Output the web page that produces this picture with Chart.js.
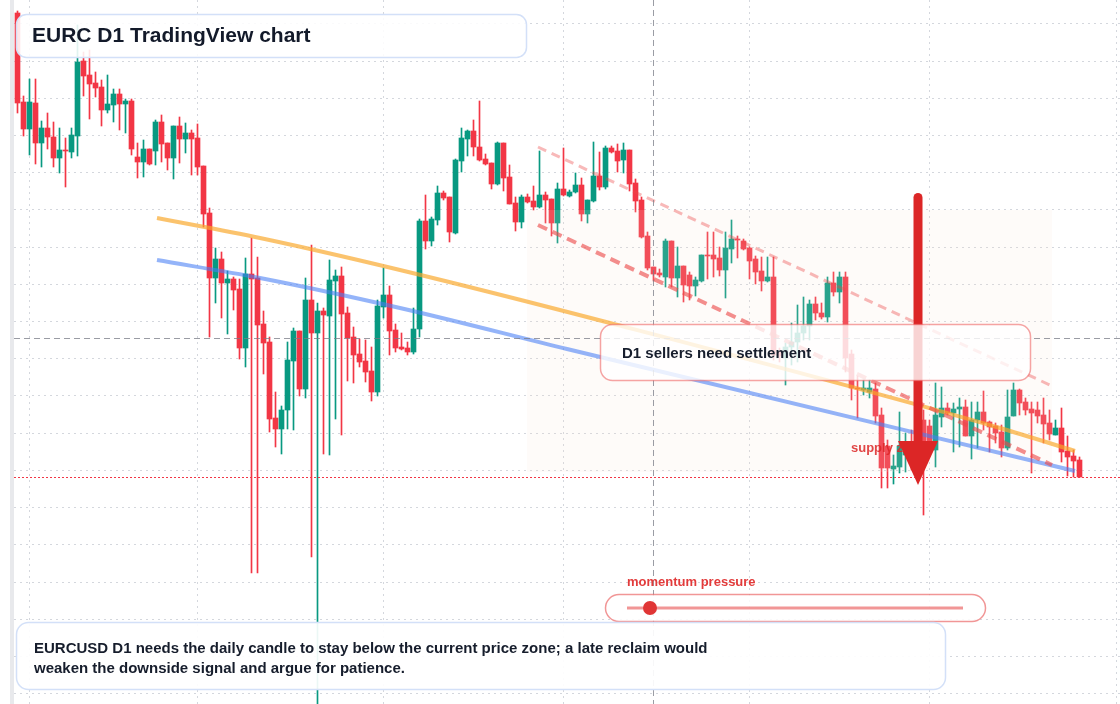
<!DOCTYPE html>
<html><head><meta charset="utf-8">
<script src="https://cdn.jsdelivr.net/npm/chart.js@4.4.1/dist/chart.umd.min.js"></script>
<style>html,body{margin:0;padding:0;background:#fff;overflow:hidden}#wrap{width:1120px;height:704px;position:relative}canvas{display:block}</style>
</head><body><div id="wrap"><canvas id="c" width="1120" height="704"></canvas></div>
<script>
// ---- Daily candles (EURC D1), one entry per day ----
const openP = [
1.1987,1.1898,1.1871,1.1897,1.1857,1.1872,1.1863,1.1842,1.1850,1.1848,
1.1864,1.1939,1.1925,1.1917,1.1913,1.1890,1.1895,1.1906,1.1896,1.1899,
1.1843,1.1838,1.1851,1.1849,1.1878,1.1857,1.1842,1.1874,1.1861,1.1867,
1.1862,1.1834,1.1787,1.1722,1.1741,1.1717,1.1721,1.1711,1.1652,1.1726,
1.1722,1.1676,1.1658,1.1582,1.1571,1.1590,1.1639,1.1669,1.1611,1.1700,
1.1667,1.1689,1.1684,1.1719,1.1724,1.1687,1.1663,1.1646,1.1639,1.1629,
1.1608,1.1693,1.1705,1.1670,1.1653,1.1652,1.1648,1.1671,1.1779,1.1759,
1.1780,1.1807,1.1803,1.1767,1.1839,1.1861,1.1869,1.1853,1.1841,1.1837,
1.1816,1.1857,1.1823,1.1797,1.1778,1.1803,1.1799,1.1793,1.1805,1.1801,
1.1777,1.1811,1.1804,1.1808,1.1815,1.1786,1.1799,1.1824,1.1813,1.1852,
1.1849,1.1840,1.1850,1.1817,1.1800,1.1764,1.1733,1.1727,1.1723,1.1759,
1.1722,1.1734,1.1725,1.1714,1.1719,1.1745,1.1745,1.1742,1.1730,1.1751,
1.1761,1.1759,1.1752,1.1741,1.1729,1.1719,1.1723,1.1648,1.1642,1.1653,
1.1658,1.1667,1.1674,1.1696,1.1687,1.1683,1.1717,1.1708,1.1723,1.1646,
1.1612,1.1610,1.1608,1.1611,1.1585,1.1554,1.1531,1.1533,1.1545,1.1555,
1.1548,1.1580,1.1574,1.1550,1.1583,1.1592,1.1587,1.1591,1.1593,1.1564,
1.1580,1.1588,1.1578,1.1574,1.1568,1.1552,1.1584,1.1610,1.1598,1.1591,
1.1590,1.1585,1.1577,1.1565,1.1572,1.1549,1.1544,1.1540];
const highP = [
1.1989,1.1904,1.1921,1.1921,1.1879,1.1887,1.1878,1.1872,1.1862,1.1872,
1.1975,1.1948,1.1950,1.1928,1.1920,1.1925,1.1911,1.1911,1.1901,1.1901,
1.1857,1.1860,1.1851,1.1880,1.1885,1.1857,1.1874,1.1883,1.1877,1.1870,
1.1876,1.1834,1.1792,1.1752,1.1748,1.1729,1.1723,1.1721,1.1742,1.1762,
1.1743,1.1689,1.1663,1.1608,1.1594,1.1658,1.1672,1.1669,1.1722,1.1755,
1.1697,1.1692,1.1740,1.1730,1.1733,1.1693,1.1673,1.1661,1.1660,1.1653,
1.1700,1.1732,1.1714,1.1676,1.1667,1.1658,1.1692,1.1781,1.1805,1.1783,
1.1814,1.1809,1.1803,1.1841,1.1872,1.1870,1.1880,1.1899,1.1846,1.1837,
1.1858,1.1857,1.1835,1.1803,1.1805,1.1806,1.1814,1.1849,1.1808,1.1801,
1.1817,1.1852,1.1810,1.1827,1.1822,1.1800,1.1858,1.1848,1.1854,1.1854,
1.1856,1.1857,1.1850,1.1821,1.1803,1.1768,1.1733,1.1731,1.1761,1.1759,
1.1753,1.1734,1.1728,1.1723,1.1745,1.1768,1.1768,1.1753,1.1768,1.1780,
1.1764,1.1761,1.1753,1.1744,1.1743,1.1743,1.1743,1.1652,1.1657,1.1677,
1.1695,1.1703,1.1700,1.1703,1.1697,1.1723,1.1728,1.1728,1.1728,1.1650,
1.1624,1.1620,1.1620,1.1617,1.1592,1.1560,1.1545,1.1588,1.1567,1.1570,
1.1585,1.1590,1.1580,1.1617,1.1613,1.1597,1.1597,1.1602,1.1600,1.1598,
1.1598,1.1609,1.1579,1.1577,1.1575,1.1610,1.1617,1.1611,1.1602,1.1598,
1.1598,1.1602,1.1590,1.1580,1.1592,1.1564,1.1550,1.1543];
const lowP = [
1.1887,1.1864,1.1845,1.1836,1.1833,1.1851,1.1833,1.1827,1.1813,1.1842,
1.1844,1.1904,1.1881,1.1903,1.1874,1.1887,1.1878,1.1870,1.1867,1.1845,
1.1822,1.1823,1.1835,1.1835,1.1838,1.1830,1.1821,1.1837,1.1847,1.1825,
1.1825,1.1773,1.1663,1.1697,1.1682,1.1666,1.1690,1.1641,1.1633,1.1427,
1.1427,1.1626,1.1568,1.1553,1.1546,1.1571,1.1570,1.1604,1.1602,1.1443,
1.1294,1.1546,1.1545,1.1581,1.1565,1.1619,1.1617,1.1633,1.1618,1.1599,
1.1604,1.1682,1.1645,1.1648,1.1650,1.1645,1.1646,1.1663,1.1751,1.1754,
1.1775,1.1800,1.1758,1.1766,1.1828,1.1844,1.1844,1.1839,1.1835,1.1811,
1.1815,1.1809,1.1796,1.1769,1.1772,1.1797,1.1790,1.1792,1.1777,1.1764,
1.1757,1.1804,1.1803,1.1807,1.1779,1.1777,1.1798,1.1810,1.1811,1.1847,
1.1828,1.1827,1.1809,1.1788,1.1762,1.1730,1.1719,1.1723,1.1713,1.1713,
1.1703,1.1698,1.1700,1.1704,1.1718,1.1721,1.1723,1.1724,1.1702,1.1737,
1.1742,1.1750,1.1721,1.1716,1.1709,1.1718,1.1640,1.1638,1.1615,1.1635,
1.1638,1.1660,1.1660,1.1680,1.1681,1.1678,1.1704,1.1697,1.1628,1.1600,
1.1582,1.1605,1.1602,1.1577,1.1512,1.1512,1.1516,1.1527,1.1528,1.1530,
1.1540,1.1485,1.1550,1.1533,1.1573,1.1585,1.1548,1.1553,1.1564,1.1541,
1.1552,1.1570,1.1548,1.1557,1.1543,1.1550,1.1584,1.1585,1.1585,1.1527,
1.1577,1.1557,1.1560,1.1565,1.1538,1.1524,1.1523,1.1523];
const closeP = [
1.1897,1.1871,1.1898,1.1857,1.1872,1.1863,1.1842,1.1850,1.1849,1.1865,
1.1938,1.1924,1.1916,1.1912,1.1890,1.1896,1.1906,1.1896,1.1899,1.1851,
1.1838,1.1851,1.1836,1.1878,1.1856,1.1842,1.1874,1.1861,1.1867,1.1861,
1.1833,1.1786,1.1722,1.1741,1.1717,1.1721,1.1710,1.1652,1.1726,1.1721,
1.1675,1.1657,1.1581,1.1571,1.1590,1.1640,1.1669,1.1611,1.1700,1.1667,
1.1689,1.1685,1.1720,1.1724,1.1686,1.1662,1.1645,1.1638,1.1628,1.1608,
1.1694,1.1705,1.1669,1.1652,1.1651,1.1648,1.1671,1.1779,1.1759,1.1781,
1.1807,1.1802,1.1768,1.1840,1.1862,1.1869,1.1853,1.1840,1.1836,1.1816,
1.1857,1.1822,1.1796,1.1778,1.1803,1.1798,1.1793,1.1805,1.1800,1.1777,
1.1811,1.1805,1.1808,1.1815,1.1786,1.1800,1.1824,1.1813,1.1852,1.1848,
1.1839,1.1850,1.1816,1.1799,1.1763,1.1732,1.1726,1.1725,1.1759,1.1722,
1.1734,1.1715,1.1714,1.1720,1.1745,1.1744,1.1741,1.1730,1.1752,1.1761,
1.1760,1.1751,1.1739,1.1728,1.1719,1.1723,1.1645,1.1644,1.1653,1.1658,
1.1667,1.1674,1.1696,1.1687,1.1683,1.1717,1.1708,1.1723,1.1642,1.1612,
1.1611,1.1612,1.1612,1.1584,1.1532,1.1532,1.1534,1.1554,1.1555,1.1548,
1.1575,1.1558,1.1553,1.1585,1.1592,1.1587,1.1591,1.1593,1.1564,1.1580,
1.1588,1.1577,1.1573,1.1567,1.1552,1.1583,1.1610,1.1597,1.1590,1.1587,
1.1584,1.1576,1.1566,1.1572,1.1548,1.1543,1.1539,1.1523];

// ---- Drawings (bar index, price) ----
const orangeIdx = [23.25, 40.42, 63.75, 98.75, 163.75, 176.25];
const orangeVal = [1.1782, 1.1762, 1.1730, 1.1677, 1.1572, 1.1549];
const blueIdx   = [23.25, 40.42, 63.75, 91.58, 176.25];
const blueVal   = [1.1740, 1.1722, 1.1692, 1.1651, 1.1529];
const chanIdx   = [86.75, 172.42];
const chanUpper = [1.1853, 1.1614];
const chanLower = [1.1775, 1.1535];
const zoneIdx   = [84.9, 172.42];
const zoneVal   = [1.1790, 1.1528];
const crossIdx  = 106;
const crossVal  = 1.1662;

// ---- Grid ticks ----
const monthGridIdx = [2.08, 30, 60.92, 91, 122.08, 152, 183.2];
const priceGrid = [1.1976,1.19388,1.19016,1.18644,1.18272,1.1790,1.17528,1.17156,1.16784,1.16412,1.1604,1.15668,1.15296,1.14924,1.14552,1.1418,1.13808,1.13436,1.13064];

// ---- Text ----
const titleText = 'EURC D1 TradingView chart';
const calloutText = 'D1 sellers need settlement';
const supplyText = 'supply zone';
const momentumText = 'momentum pressure';
const noteLines = ['EURCUSD D1 needs the daily candle to stay below the current price zone; a late reclaim would',
                   'weaken the downside signal and argue for patience.'];

const UP = '#089981', DOWN = '#f23645';
const FONT = '"Liberation Sans", Arial, Helvetica, sans-serif';

const idxs = openP.map((_, i) => i);
const bodies = idxs.map(i => ({x: i, y: [openP[i], closeP[i]]}));
const wicks = idxs.map(i => ({x: i, y: [lowP[i], highP[i]]}));
const candleColors = idxs.map(i => closeP[i] >= openP[i] ? UP : DOWN);
const pts = (xs, ys) => xs.map((v, i) => ({x: v, y: ys[i]}));

function rr(c, x, y, w, h, r) { c.beginPath(); c.roundRect(x, y, w, h, r); }

const overlay = {
  id: 'overlay',
  beforeDraw(chart) {
    const c = chart.ctx; c.save();
    c.fillStyle = '#ffffff'; c.fillRect(0, 0, chart.width, chart.height);
    c.fillStyle = '#e8e9ec'; c.fillRect(10, 0, 4, chart.height);
    c.restore();
  },
  afterDatasetDraw(chart, args) {
    if (chart.data.datasets[args.index].label !== 'bodies') return;
    const xs = chart.scales.x, ys = chart.scales.y, c = chart.ctx;
    const x0 = xs.getPixelForValue(zoneIdx[0]), x1 = xs.getPixelForValue(zoneIdx[1]);
    const y0 = ys.getPixelForValue(zoneVal[0]), y1 = ys.getPixelForValue(zoneVal[1]);
    c.save(); c.fillStyle = 'rgba(248,226,214,0.14)'; c.fillRect(x0, y0, x1 - x0, y1 - y0); c.restore();
  },
  afterDatasetsDraw(chart) {
    const xs = chart.scales.x, ys = chart.scales.y, c = chart.ctx, a = chart.chartArea;
    c.save();
    // crosshair
    c.strokeStyle = 'rgba(120,123,134,0.75)'; c.lineWidth = 1; c.setLineDash([6, 4]);
    const cx = Math.round(xs.getPixelForValue(crossIdx)) + 0.5;
    const cy = Math.round(ys.getPixelForValue(crossVal)) + 0.5;
    c.beginPath(); c.moveTo(cx, 0); c.lineTo(cx, a.bottom); c.stroke();
    c.beginPath(); c.moveTo(a.left, cy); c.lineTo(a.right, cy); c.stroke();
    // last price line
    const py = Math.round(ys.getPixelForValue(closeP[closeP.length - 1])) + 0.5;
    c.strokeStyle = DOWN; c.setLineDash([2, 2]);
    c.beginPath(); c.moveTo(a.left, py); c.lineTo(a.right, py); c.stroke();
    c.setLineDash([]);

    // title box
    rr(c, 16.5, 14.5, 510, 43, 10);
    c.fillStyle = 'rgba(255,255,255,0.88)'; c.fill();
    c.strokeStyle = '#d3e0f8'; c.lineWidth = 1.5; c.stroke();
    c.fillStyle = '#131a2a'; c.font = 'bold 21px ' + FONT; c.textBaseline = 'middle';
    c.fillText(titleText, 32, 36.5);

    // supply label
    c.fillStyle = 'rgba(220,38,38,0.85)'; c.font = 'bold 13px ' + FONT;
    c.fillText(supplyText, 851, 448.5);

    // arrow
    c.strokeStyle = '#dc2626'; c.lineWidth = 9; c.lineCap = 'round';
    c.beginPath(); c.moveTo(918, 197.5); c.lineTo(918, 446); c.stroke();
    c.lineCap = 'butt';
    c.fillStyle = '#dc2626';
    c.beginPath(); c.moveTo(898, 441); c.lineTo(938, 441); c.lineTo(918, 485); c.closePath(); c.fill();

    // callout
    rr(c, 600.5, 324.5, 430, 56, 12);
    c.fillStyle = 'rgba(255,255,255,0.8)'; c.fill();
    c.strokeStyle = 'rgba(236,90,90,0.55)'; c.lineWidth = 1.5; c.stroke();
    c.fillStyle = '#161d2c'; c.font = 'bold 15px ' + FONT;
    c.fillText(calloutText, 622, 353.5);

    // momentum slider
    c.fillStyle = '#e23b3b'; c.font = 'bold 13px ' + FONT;
    c.fillText(momentumText, 627, 582.5);
    rr(c, 605.5, 594.5, 380, 27, 13.5);
    c.fillStyle = 'rgba(255,255,255,0.85)'; c.fill();
    c.strokeStyle = 'rgba(232,80,80,0.6)'; c.lineWidth = 1.5; c.stroke();
    c.strokeStyle = 'rgba(232,80,80,0.6)'; c.lineWidth = 3;
    c.beginPath(); c.moveTo(627, 608); c.lineTo(963, 608); c.stroke();
    c.fillStyle = '#e03535';
    c.beginPath(); c.arc(650, 608, 7, 0, Math.PI * 2); c.fill();

    // bottom note
    rr(c, 16.5, 622.5, 929, 67, 12);
    c.fillStyle = 'rgba(255,255,255,0.92)'; c.fill();
    c.strokeStyle = '#d3e0f8'; c.lineWidth = 1.5; c.stroke();
    c.fillStyle = '#161d2c'; c.font = 'bold 15px ' + FONT;
    c.fillText(noteLines[0], 34, 648.5);
    c.fillText(noteLines[1], 34, 668.5);
    c.restore();
  }
};

new Chart(document.getElementById('c'), {
  type: 'bar',
  data: {
    datasets: [
      {label: 'chanUpper', type: 'line', data: pts(chanIdx, chanUpper), borderColor: 'rgba(236,72,72,0.38)', borderWidth: 3, borderDash: [9, 6], pointRadius: 0, fill: false, order: 1},
      {label: 'chanLower', type: 'line', data: pts(chanIdx, chanLower), borderColor: 'rgba(236,72,72,0.62)', borderWidth: 4, borderDash: [10, 6], pointRadius: 0, fill: false, order: 1},
      {label: 'orange', type: 'line', data: pts(orangeIdx, orangeVal), borderColor: 'rgba(249,166,40,0.68)', borderWidth: 4, pointRadius: 0, fill: false, cubicInterpolationMode: 'monotone', order: 2},
      {label: 'blue', type: 'line', data: pts(blueIdx, blueVal), borderColor: 'rgba(70,125,245,0.58)', borderWidth: 4, pointRadius: 0, fill: false, cubicInterpolationMode: 'monotone', order: 2},
      {label: 'bodies', data: bodies, backgroundColor: candleColors, borderWidth: 0, barThickness: 5, grouped: false, order: 3},
      {label: 'wicks', data: wicks, backgroundColor: candleColors, borderWidth: 0, barThickness: 1, grouped: false, order: 4}
    ]
  },
  options: {
    responsive: false, animation: false, events: [],
    layout: {padding: {left: 14, right: 0, top: 0, bottom: 0}},
    plugins: {legend: {display: false}, tooltip: {enabled: false}},
    scales: {
      x: {type: 'linear', min: -0.58333, max: 183.75, offset: false,
          grid: {offset: false, color: '#d4d7dd', drawTicks: false, lineWidth: 1},
          border: {display: false, dash: [2, 4]}, ticks: {display: false},
          afterBuildTicks: s => { s.ticks = monthGridIdx.map(v => ({value: v})); },
          afterFit: s => { s.height = 0; }},
      y: {type: 'linear', min: 1.1296, max: 1.2,
          grid: {color: '#d4d7dd', drawTicks: false, lineWidth: 1},
          border: {display: false, dash: [2, 4]}, ticks: {display: false},
          afterBuildTicks: s => { s.ticks = priceGrid.map(v => ({value: v})); },
          afterFit: s => { s.width = 0; }}
    }
  },
  plugins: [overlay]
});
</script>
</body></html>
